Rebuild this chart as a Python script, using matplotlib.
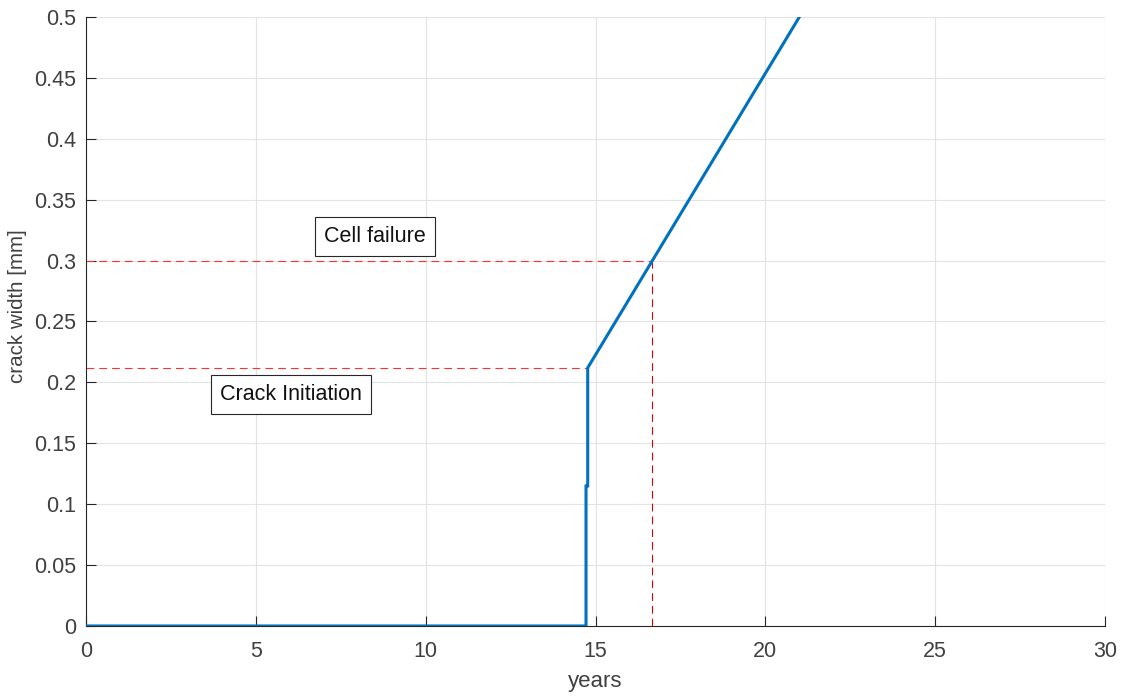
import matplotlib
matplotlib.use("Agg")
import matplotlib.pyplot as plt

# crack width growth curve
years = [0, 14.72, 14.72, 14.77, 14.77, 21.0]
width = [0, 0, 0.115, 0.115, 0.212, 0.5]

# threshold markers
init_year, init_width = 14.77, 0.212
fail_year, fail_width = 16.67, 0.3

xticks = [0, 5, 10, 15, 20, 25, 30]
yticks = [0, 0.05, 0.1, 0.15, 0.2, 0.25, 0.3, 0.35, 0.4, 0.45, 0.5]
ytick_labels = ["0", "0.05", "0.1", "0.15", "0.2", "0.25", "0.3", "0.35", "0.4", "0.45", "0.5"]

plt.rcParams['font.family'] = ['Liberation Sans', 'DejaVu Sans']

fig = plt.figure(figsize=(11.23, 6.98), dpi=100)
ax = fig.add_axes([0.0766, 0.1032, 0.9074, 0.8724])

ax.grid(True, color='#e3e3e3', linewidth=0.8)
ax.set_axisbelow(True)

ax.plot(years, width, color='#0072BD', linewidth=2.2, solid_joinstyle='miter', zorder=3)

red = '#ff3030'
dash = (0, (7, 4.5))
ax.plot([0, init_year], [init_width, init_width], color=red, linestyle=dash, linewidth=0.8, zorder=2)
ax.plot([0, fail_year], [fail_width, fail_width], color=red, linestyle=dash, linewidth=0.8, zorder=2)
ax.plot([fail_year, fail_year], [0, fail_width], color='#e00000', linestyle=dash, linewidth=0.8, zorder=2)

box = dict(boxstyle='square,pad=0.42', facecolor='white', edgecolor='#262626', linewidth=0.8)
ax.text(8.5, 0.320, "Cell failure", fontsize=15.5, ha='center', va='center', bbox=box, color='#111111')
ax.text(6.03, 0.190, "Crack Initiation", fontsize=15.5, ha='center', va='center', bbox=box, color='#111111')

ax.set_xlim(0, 30)
ax.set_ylim(0, 0.5)
ax.set_xticks(xticks)
ax.set_yticks(yticks)
ax.set_yticklabels(ytick_labels)
ax.tick_params(direction='in', length=7, width=0.8, color='#262626', labelcolor='#404040', labelsize=15.5)
ax.tick_params(axis='x', pad=11)
ax.tick_params(axis='y', pad=7)

for s in ['top', 'right']:
    ax.spines[s].set_visible(False)
for s in ['left', 'bottom']:
    ax.spines[s].set_color('#262626')
    ax.spines[s].set_linewidth(0.8)

ax.set_xlabel("years", fontsize=16, color='#404040', labelpad=6)
ax.set_ylabel("crack width [mm]", fontsize=14.8, color='#404040')
ax.yaxis.set_label_coords(-0.058, 0.525)

fig.savefig("out.png", dpi=100, facecolor='white')
